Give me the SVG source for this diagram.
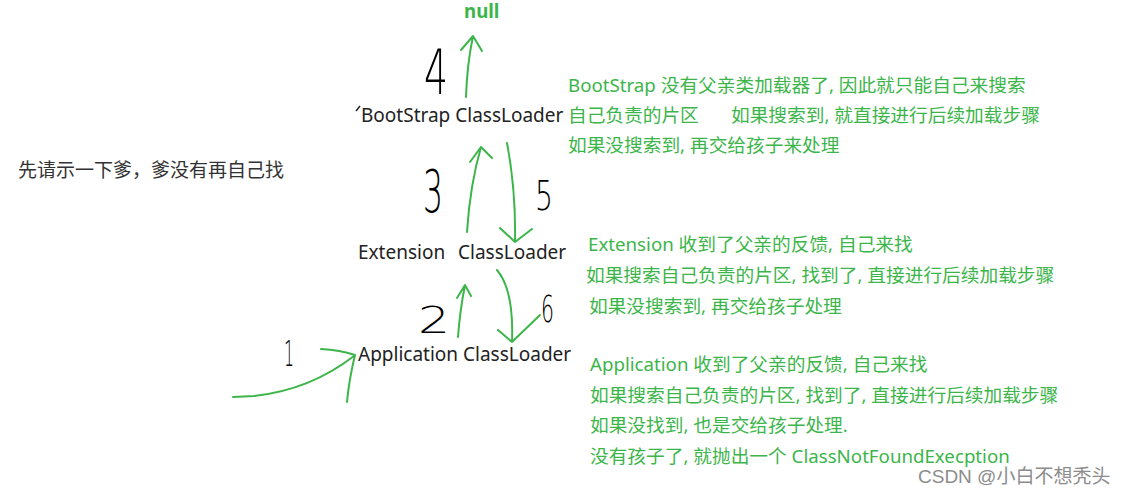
<svg xmlns="http://www.w3.org/2000/svg" width="1123" height="496" viewBox="0 0 1123 496">
<defs>
<style>
.g{fill:#3cb54a;font-family:"Noto Sans","Noto Sans CJK SC",sans-serif;font-size:18.7px}
.k{fill:#222;font-family:"Noto Sans","Noto Sans CJK SC",sans-serif;font-size:19px}
.n{fill:#000;font-family:"DejaVu Sans",sans-serif;font-weight:200}
.a{fill:none;stroke:#3cb54a;stroke-width:2;stroke-linecap:round;stroke-linejoin:round}
.w{fill:#8c8c8c;font-family:"Liberation Sans","Noto Sans CJK SC",sans-serif;font-size:19px}
</style>
</defs>
<rect width="1123" height="496" fill="#fff"/>
<g id="null"><text class="g" x="464" y="18" font-weight="bold" font-size="16.5">null</text></g>
<g id="bootstrap">
<path d="M356 111 L360 106" stroke="#222" stroke-width="1.5"/>
<text class="k" x="361" y="122">BootStrap ClassLoader</text>
</g>
<g id="extension"><text class="k" x="358" y="259">Extension</text><text class="k" x="458" y="259">ClassLoader</text></g>
<g id="application"><text class="k" x="358" y="361">Application ClassLoader</text></g>
<g id="note-left"><text class="k" x="18" y="177" font-size="19.4" style="fill:#333">先请示一下爹，爹没有再自己找</text></g>
<g id="note-bootstrap">
<text class="g" x="568" y="92">BootStrap 没有父亲类加载器了, 因此就只能自己来搜索</text>
<text class="g" x="568" y="122">自己负责的片区<tspan x="731">如果搜索到, 就直接进行后续加载步骤</tspan></text>
<text class="g" x="568" y="152">如果没搜索到, 再交给孩子来处理</text>
</g>
<g id="note-extension">
<text class="g" x="588" y="251">Extension 收到了父亲的反馈, 自己来找</text>
<text class="g" x="586" y="282">如果搜索自己负责的片区, 找到了, 直接进行后续加载步骤</text>
<text class="g" x="589" y="313">如果没搜索到, 再交给孩子处理</text>
</g>
<g id="note-application">
<text class="g" x="590" y="371">Application 收到了父亲的反馈, 自己来找</text>
<text class="g" x="590" y="402">如果搜索自己负责的片区, 找到了, 直接进行后续加载步骤</text>
<text class="g" x="590" y="432">如果没找到, 也是交给孩子处理.</text>
<text class="g" x="590" y="463">没有孩子了, 就抛出一个 ClassNotFoundExecption</text>
</g>
<g id="numbers">
<text class="n" x="424" y="94" font-size="62" textLength="24" lengthAdjust="spacingAndGlyphs">4</text>
<text class="n" x="423" y="212" font-size="58" textLength="20" lengthAdjust="spacingAndGlyphs">3</text>
<text class="n" x="535" y="210" font-size="41" textLength="18" lengthAdjust="spacingAndGlyphs">5</text>
<text class="n" x="418" y="333" font-size="38" textLength="32" lengthAdjust="spacingAndGlyphs">2</text>
<text class="n" x="541" y="322" font-size="38" textLength="13" lengthAdjust="spacingAndGlyphs">6</text>
<text class="n" x="284" y="366" font-size="36" textLength="10" lengthAdjust="spacingAndGlyphs">1</text>
</g>
<g id="connectors">
<path class="a" d="M466 97 Q467 65 473 36 M461 50 L473 36 L482 51"/>
<path class="a" d="M467 232 Q470 185 481 147 M470 162 L481 147 L492 158"/>
<path class="a" d="M507 143 Q516 190 515 242 M500 228 L515 242 L532 229"/>
<path class="a" d="M458 337 Q460 310 465 285 M457 298 L465 285 L471 296"/>
<path class="a" d="M497 270 Q514 290 512 342 M498 330 L512 342 L540 315"/>
<path class="a" d="M233 397 L254 396 Q310 390 354 356 M321 349 Q340 350 355 355 Q349 380 347 402"/>
</g>
<g id="watermark"><text class="w" x="918" y="483">CSDN @小白不想秃头</text></g>
</svg>
